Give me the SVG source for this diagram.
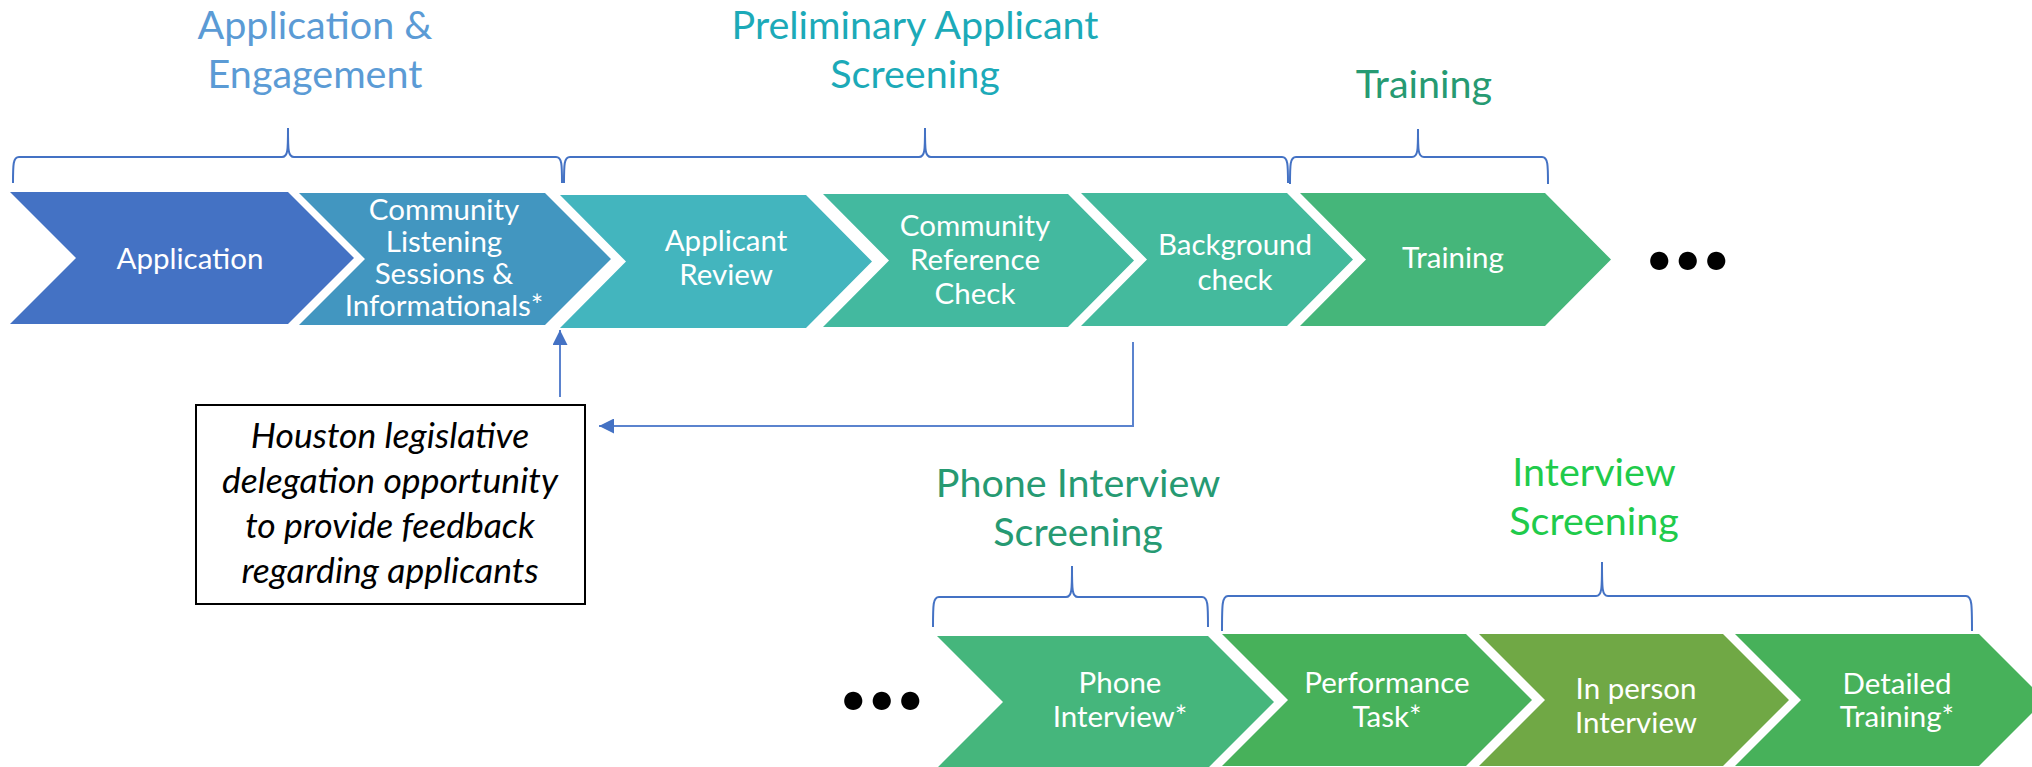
<svg xmlns="http://www.w3.org/2000/svg" width="2032" height="767" viewBox="0 0 2032 767">
<defs>
<style>
.title{font-family:Lato,"Open Sans","Liberation Sans",sans-serif;font-size:39.5px;text-anchor:middle}
.lbl{font-family:Lato,"Open Sans","Liberation Sans",sans-serif;font-size:29.5px;fill:#ffffff;text-anchor:middle}
.note{font-family:Lato,"Open Sans","Liberation Sans",sans-serif;font-size:35.5px;font-style:italic;fill:#000000;text-anchor:middle}
.dots{font-family:Lato,"DejaVu Sans",sans-serif;font-size:120px;font-weight:bold;fill:#000000}
.brace{fill:none;stroke:#4472C4;stroke-width:2}
.conn{fill:none;stroke:#5B83CE;stroke-width:2}
</style>
<marker id="ah" viewBox="0 0 10 10" refX="10" refY="5" markerWidth="15" markerHeight="15" markerUnits="userSpaceOnUse" orient="auto">
<path d="M0,0 L10,5 L0,10 z" fill="#4472C4"/>
</marker>
</defs>
<rect width="2032" height="767" fill="#ffffff"/>

<g id="titles">
<text class="title" fill="#5B9BD5" x="315" y="39">Application &amp;</text>
<text class="title" fill="#5B9BD5" x="315" y="88">Engagement</text>
<text class="title" fill="#1CAAB8" x="915" y="39">Preliminary Applicant</text>
<text class="title" fill="#1CAAB8" x="915" y="88">Screening</text>
<text class="title" fill="#269A72" x="1424" y="98">Training</text>
<text class="title" fill="#269A72" x="1078" y="497">Phone Interview</text>
<text class="title" fill="#269A72" x="1078" y="546">Screening</text>
<text class="title" fill="#1FCB4B" x="1594" y="486">Interview</text>
<text class="title" fill="#1FCB4B" x="1594" y="535">Screening</text>
</g>

<g id="braces">
<path class="brace" d="M13,183 C13,165 13,157 19,157 L282,157 C288,157 288,150 288,128 C288,150 288,157 294,157 L556,157 C562,157 562,165 562,183"/>
<path class="brace" d="M564,183 C564,165 564,157 570,157 L919,157 C925,157 925,150 925,128 C925,150 925,157 931,157 L1282,157 C1288,157 1288,165 1288,183"/>
<path class="brace" d="M1290,184 C1290,165 1290,157 1296,157 L1412,157 C1418,157 1418,150 1418,129 C1418,150 1418,157 1424,157 L1542,157 C1548,157 1548,165 1548,184"/>
<path class="brace" d="M933,627 C933,605 933,597 939,597 L1066,597 C1072,597 1072,590 1072,566 C1072,590 1072,597 1078,597 L1202,597 C1208,597 1208,605 1208,627"/>
<path class="brace" d="M1222,631 C1222,605 1222,596 1228,596 L1596,596 C1602,596 1602,589 1602,562 C1602,589 1602,596 1608,596 L1966,596 C1972,596 1972,605 1972,631"/>
</g>

<g id="n-application">
<polygon fill="#4472C4" points="10,192 288,192 354,258 288,324 10,324 76,258"/>
<text class="lbl" x="190" y="269">Application</text>
</g>
<g id="n-listening">
<polygon fill="#4296C0" points="299,193 545,193 611,259 545,325 299,325 365,259"/>
<text class="lbl" x="444" y="220">Community</text>
<text class="lbl" x="444" y="252">Listening</text>
<text class="lbl" x="444" y="284">Sessions &amp;</text>
<text class="lbl" x="444" y="316">Informationals*</text>
</g>
<g id="n-review">
<polygon fill="#43B5BE" points="560,195 806,195 872,261.5 806,328 560,328 626,261.5"/>
<text class="lbl" x="726" y="251">Applicant</text>
<text class="lbl" x="726" y="285">Review</text>
</g>
<g id="n-reference">
<polygon fill="#43B99F" points="823,194 1068,194 1134,260.5 1068,327 823,327 889,260.5"/>
<text class="lbl" x="975" y="236">Community</text>
<text class="lbl" x="975" y="270">Reference</text>
<text class="lbl" x="975" y="304">Check</text>
</g>
<g id="n-background">
<polygon fill="#44BA9D" points="1081,193 1287,193 1353,259.5 1287,326 1081,326 1147,259.5"/>
<text class="lbl" x="1235" y="255">Background</text>
<text class="lbl" x="1235" y="290">check</text>
</g>
<g id="n-training">
<polygon fill="#45B67A" points="1300,193 1545,193 1611,259.5 1545,326 1300,326 1366,259.5"/>
<text class="lbl" x="1453" y="268">Training</text>
</g>
<text class="dots" x="1645" y="269">...</text>

<g id="n-note">
<rect x="196" y="405" width="389" height="199" fill="#ffffff" stroke="#000000" stroke-width="2"/>
<text class="note" x="390" y="448">Houston legislative</text>
<text class="note" x="390" y="493">delegation opportunity</text>
<text class="note" x="390" y="538">to provide feedback</text>
<text class="note" x="390" y="583">regarding applicants</text>
</g>

<g id="connectors">
<path class="conn" d="M560,397 L560,330" marker-end="url(#ah)"/>
<path class="conn" d="M1133,342 L1133,426 L599,426" marker-end="url(#ah)"/>
</g>

<text class="dots" x="839" y="709">...</text>
<g id="n-phone">
<polygon fill="#45B67C" points="937,636 1208,636 1274,702 1208,768 937,768 1003,702"/>
<text class="lbl" x="1120" y="693">Phone</text>
<text class="lbl" x="1120" y="727">Interview*</text>
</g>
<g id="n-performance">
<polygon fill="#47B15A" points="1222,634 1466,634 1532,700 1466,766 1222,766 1288,700"/>
<text class="lbl" x="1387" y="693">Performance</text>
<text class="lbl" x="1387" y="727">Task*</text>
</g>
<g id="n-inperson">
<polygon fill="#70A845" points="1479,634 1723,634 1789,700 1723,766 1479,766 1545,700"/>
<text class="lbl" x="1636" y="699">In person</text>
<text class="lbl" x="1636" y="733">Interview</text>
</g>
<g id="n-detailed">
<polygon fill="#47B15A" points="1735,634 1979,634 2045,700 1979,766 1735,766 1801,700"/>
<text class="lbl" x="1897" y="694">Detailed</text>
<text class="lbl" x="1897" y="727">Training*</text>
</g>
</svg>
